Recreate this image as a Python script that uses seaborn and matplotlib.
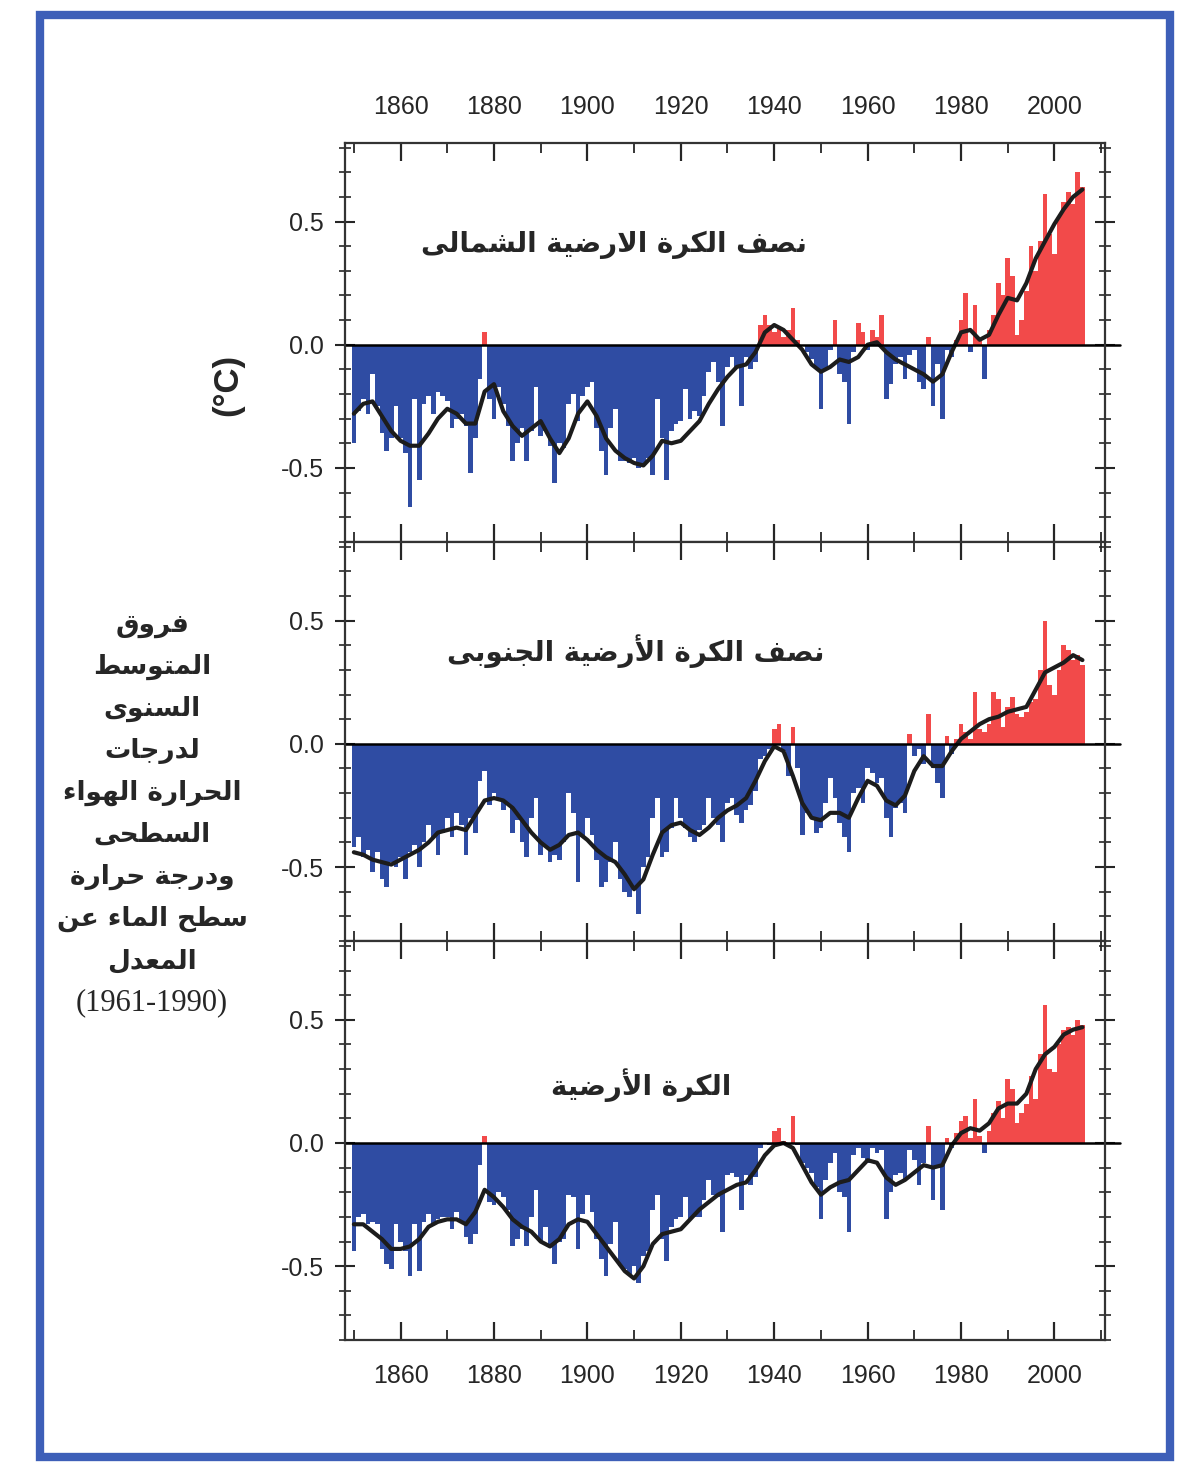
import matplotlib
matplotlib.use('Agg')
import matplotlib.pyplot as plt
import matplotlib.ticker as mticker
from matplotlib.patches import Rectangle
import numpy as np
import pandas as pd
import seaborn as sns

# annual anomalies (deg C, relative to 1961-1990), 1850-2006
YEARS = list(range(1850, 2007))

NH = [
    -0.40, -0.27, -0.22, -0.28, -0.12, -0.25, -0.36, -0.43, -0.38, -0.25,
    -0.38, -0.44, -0.66, -0.22, -0.55, -0.24, -0.21, -0.28, -0.19, -0.21,
    -0.23, -0.34, -0.30, -0.28, -0.33, -0.52, -0.38, -0.14, 0.05, -0.22,
    -0.30, -0.17, -0.24, -0.33, -0.47, -0.40, -0.34, -0.47, -0.35, -0.17,
    -0.37, -0.35, -0.41, -0.56, -0.40, -0.42, -0.24, -0.20, -0.31, -0.21,
    -0.17, -0.15, -0.34, -0.43, -0.53, -0.34, -0.26, -0.47, -0.47, -0.48,
    -0.46, -0.50, -0.49, -0.46, -0.53, -0.22, -0.38, -0.55, -0.35, -0.32,
    -0.31, -0.18, -0.30, -0.27, -0.29, -0.21, -0.11, -0.07, -0.15, -0.33,
    -0.09, -0.05, -0.09, -0.25, -0.05, -0.10, -0.07, 0.08, 0.12, 0.08,
    0.05, 0.07, 0.03, 0.06, 0.15, 0.02, 0.00, -0.03, -0.06, -0.10,
    -0.26, -0.10, -0.02, 0.10, -0.12, -0.15, -0.32, -0.03, 0.09, 0.05,
    -0.02, 0.06, 0.03, 0.12, -0.22, -0.16, -0.08, -0.05, -0.14, -0.04,
    -0.02, -0.15, -0.18, 0.03, -0.25, -0.08, -0.30, -0.02, -0.05, 0.02,
    0.10, 0.21, -0.03, 0.16, 0.02, -0.14, 0.06, 0.12, 0.25, 0.20,
    0.35, 0.28, 0.04, 0.10, 0.22, 0.40, 0.30, 0.42, 0.61, 0.45,
    0.37, 0.52, 0.58, 0.62, 0.57, 0.70, 0.64,
]

SH = [
    -0.42, -0.38, -0.46, -0.43, -0.52, -0.44, -0.55, -0.58, -0.48, -0.50,
    -0.46, -0.55, -0.44, -0.41, -0.50, -0.40, -0.33, -0.38, -0.45, -0.36,
    -0.30, -0.38, -0.28, -0.33, -0.45, -0.30, -0.36, -0.15, -0.11, -0.25,
    -0.20, -0.22, -0.27, -0.24, -0.36, -0.31, -0.40, -0.46, -0.30, -0.22,
    -0.45, -0.42, -0.48, -0.45, -0.47, -0.40, -0.20, -0.28, -0.56, -0.38,
    -0.30, -0.37, -0.47, -0.58, -0.56, -0.48, -0.40, -0.55, -0.60, -0.62,
    -0.58, -0.69, -0.50, -0.46, -0.30, -0.22, -0.46, -0.44, -0.34, -0.22,
    -0.30, -0.34, -0.38, -0.40, -0.35, -0.33, -0.22, -0.30, -0.33, -0.40,
    -0.24, -0.22, -0.29, -0.32, -0.27, -0.25, -0.19, -0.06, -0.05, -0.02,
    0.06, 0.08, -0.03, -0.13, 0.07, -0.10, -0.37, -0.28, -0.30, -0.36,
    -0.34, -0.24, -0.14, -0.22, -0.32, -0.38, -0.44, -0.20, -0.18, -0.24,
    -0.10, -0.12, -0.16, -0.14, -0.30, -0.38, -0.26, -0.24, -0.28, 0.04,
    -0.05, -0.02, -0.08, 0.12, -0.10, -0.16, -0.22, 0.03, -0.04, 0.02,
    0.08, 0.05, 0.02, 0.21, 0.06, 0.05, 0.08, 0.21, 0.18, 0.07,
    0.15, 0.19, 0.12, 0.11, 0.13, 0.17, 0.18, 0.30, 0.50, 0.24,
    0.20, 0.30, 0.40, 0.38, 0.34, 0.36, 0.32,
]

GL = [
    -0.44, -0.30, -0.29, -0.33, -0.32, -0.33, -0.43, -0.49, -0.51, -0.33,
    -0.40, -0.44, -0.54, -0.33, -0.52, -0.32, -0.29, -0.33, -0.31, -0.30,
    -0.30, -0.35, -0.28, -0.32, -0.38, -0.41, -0.37, -0.09, 0.03, -0.24,
    -0.25, -0.20, -0.22, -0.27, -0.42, -0.39, -0.35, -0.42, -0.30, -0.19,
    -0.40, -0.34, -0.42, -0.49, -0.40, -0.39, -0.21, -0.22, -0.43, -0.29,
    -0.21, -0.28, -0.39, -0.47, -0.54, -0.41, -0.32, -0.50, -0.51, -0.53,
    -0.50, -0.57, -0.46, -0.44, -0.27, -0.21, -0.39, -0.48, -0.34, -0.31,
    -0.30, -0.22, -0.31, -0.30, -0.30, -0.23, -0.15, -0.21, -0.22, -0.36,
    -0.13, -0.12, -0.14, -0.27, -0.13, -0.17, -0.14, -0.02, 0.00, -0.01,
    0.05, 0.06, 0.01, 0.00, 0.11, -0.01, -0.08, -0.10, -0.12, -0.18,
    -0.31, -0.15, -0.08, -0.04, -0.20, -0.22, -0.36, -0.05, -0.02, -0.06,
    -0.08, -0.02, -0.04, -0.03, -0.31, -0.20, -0.13, -0.12, -0.15, -0.03,
    -0.07, -0.17, -0.08, 0.07, -0.23, -0.09, -0.27, 0.02, -0.02, 0.04,
    0.09, 0.11, 0.02, 0.18, 0.03, -0.04, 0.05, 0.12, 0.17, 0.10,
    0.26, 0.22, 0.08, 0.12, 0.16, 0.27, 0.18, 0.36, 0.56, 0.30,
    0.29, 0.40, 0.46, 0.47, 0.44, 0.50, 0.48,
]

# decadal smoothed curves, read every second year
SMOOTH_YEARS = list(range(1850, 2007, 2))

NH_SMOOTH = [
    -0.28, -0.24, -0.23, -0.29, -0.35, -0.39, -0.41, -0.41, -0.36, -0.30,
    -0.26, -0.28, -0.32, -0.32, -0.19, -0.16, -0.27, -0.33, -0.37, -0.34,
    -0.31, -0.38, -0.44, -0.38, -0.28, -0.23, -0.29, -0.38, -0.43, -0.46,
    -0.48, -0.49, -0.45, -0.39, -0.40, -0.39, -0.35, -0.31, -0.24, -0.18,
    -0.13, -0.09, -0.08, -0.03, 0.05, 0.08, 0.06, 0.02, -0.02, -0.08,
    -0.11, -0.09, -0.06, -0.07, -0.05, 0.00, 0.01, -0.03, -0.06, -0.08,
    -0.10, -0.12, -0.15, -0.12, -0.03, 0.05, 0.06, 0.02, 0.04, 0.12,
    0.19, 0.18, 0.25, 0.35, 0.42, 0.49, 0.55, 0.60, 0.63,
]

SH_SMOOTH = [
    -0.44, -0.45, -0.47, -0.48, -0.49, -0.47, -0.45, -0.43, -0.40, -0.36,
    -0.35, -0.34, -0.35, -0.29, -0.23, -0.22, -0.23, -0.26, -0.31, -0.36,
    -0.40, -0.43, -0.41, -0.37, -0.36, -0.39, -0.43, -0.46, -0.48, -0.53,
    -0.59, -0.55, -0.45, -0.36, -0.33, -0.32, -0.35, -0.37, -0.34, -0.30,
    -0.27, -0.25, -0.22, -0.15, -0.07, -0.01, -0.03, -0.13, -0.24, -0.30,
    -0.31, -0.28, -0.28, -0.30, -0.22, -0.15, -0.17, -0.23, -0.25, -0.21,
    -0.11, -0.05, -0.09, -0.09, -0.03, 0.02, 0.05, 0.08, 0.10, 0.11,
    0.13, 0.14, 0.15, 0.22, 0.29, 0.31, 0.33, 0.36, 0.34,
]

GL_SMOOTH = [
    -0.33, -0.33, -0.36, -0.39, -0.43, -0.43, -0.42, -0.39, -0.34, -0.32,
    -0.31, -0.31, -0.33, -0.28, -0.19, -0.22, -0.26, -0.31, -0.34, -0.36,
    -0.40, -0.42, -0.39, -0.33, -0.31, -0.32, -0.37, -0.42, -0.47, -0.52,
    -0.55, -0.50, -0.41, -0.37, -0.36, -0.35, -0.31, -0.27, -0.24, -0.21,
    -0.19, -0.17, -0.16, -0.11, -0.05, -0.01, 0.00, -0.02, -0.09, -0.16,
    -0.21, -0.18, -0.16, -0.15, -0.11, -0.07, -0.08, -0.14, -0.17, -0.15,
    -0.12, -0.09, -0.10, -0.09, -0.01, 0.04, 0.06, 0.05, 0.08, 0.14,
    0.16, 0.16, 0.20, 0.30, 0.36, 0.39, 0.44, 0.46, 0.47,
]

TITLES = [
    'نصف الكرة الارضية الشمالى',
    'نصف الكرة الأرضية الجنوبى',
    'الكرة الأرضية',
]
LEFT_LINES = [
    'فروق', 'المتوسط', 'السنوى', 'لدرجات', 'الحرارة الهواء',
    'السطحى', 'ودرجة حرارة', 'سطح الماء عن', 'المعدل',
]
PERIOD = '(1961-1990)'

BLUE = '#2f4ca3'
RED = '#f24a4a'

# matplotlib has no Arabic shaping: pick contextual presentation forms by hand
AR_FORMS = {
    'ء': (0xFE80, 1), 'أ': (0xFE83, 2), 'ا': (0xFE8D, 2), 'ب': (0xFE8F, 4),
    'ة': (0xFE93, 2), 'ت': (0xFE95, 4), 'ج': (0xFE9D, 4), 'ح': (0xFEA1, 4),
    'د': (0xFEA9, 2), 'ر': (0xFEAD, 2), 'س': (0xFEB1, 4), 'ش': (0xFEB5, 4),
    'ص': (0xFEB9, 4), 'ض': (0xFEBD, 4), 'ط': (0xFEC1, 4), 'ع': (0xFEC9, 4),
    'ف': (0xFED1, 4), 'ق': (0xFED5, 4), 'ك': (0xFED9, 4), 'ل': (0xFEDD, 4),
    'م': (0xFEE1, 4), 'ن': (0xFEE5, 4), 'ه': (0xFEE9, 4), 'و': (0xFEED, 2),
    'ى': (0xFEEF, 2), 'ي': (0xFEF1, 4), 'لا': (0xFEFB, 2), 'لأ': (0xFEF7, 2),
}


def shape(text):
    words = []
    for word in text.split(' '):
        toks, i = [], 0
        while i < len(word):
            if word[i:i + 2] in AR_FORMS:
                toks.append(word[i:i + 2])
                i += 2
            else:
                toks.append(word[i])
                i += 1
        chars = []
        for j, t in enumerate(toks):
            start, n = AR_FORMS[t]
            prev = j > 0 and AR_FORMS[toks[j - 1]][1] == 4 and n > 1
            nxt = n == 4 and j + 1 < len(toks) and AR_FORMS[toks[j + 1]][1] > 1
            k = 3 if (prev and nxt) else 1 if prev else 2 if nxt else 0
            chars.append(chr(start + k))
        words.append(''.join(chars))
    return ' '.join(words)[::-1]


sns.set_style('ticks')
plt.rcParams['font.family'] = ['Liberation Sans Narrow', 'Liberation Sans', 'DejaVu Sans']
plt.rcParams['axes.unicode_minus'] = False

fig, axes = plt.subplots(3, 1, figsize=(11.88, 14.71), dpi=100)
fig.subplots_adjust(left=0.29, right=0.93, top=0.903, bottom=0.089, hspace=0)

panels = [(NH, NH_SMOOTH), (SH, SH_SMOOTH), (GL, GL_SMOOTH)]
title_pos = [(0.355, 0.745), (0.383, 0.725), (0.39, 0.64)]

for i, (ax, (vals, smooth)) in enumerate(zip(axes, panels)):
    df = pd.DataFrame({'year': YEARS, 'anom': vals})
    df['sign'] = np.where(df['anom'] >= 0, 'warm', 'cool')
    sns.barplot(data=df, x='year', y='anom', hue='sign',
                palette={'warm': RED, 'cool': BLUE}, native_scale=True,
                dodge=False, width=1.0, linewidth=0, saturation=1,
                errorbar=None, legend=False, ax=ax)
    sns.lineplot(x=SMOOTH_YEARS, y=smooth, color='#1c1c1c', linewidth=3, ax=ax)
    ax.axhline(0, color='black', lw=1.8, xmax=1.02, clip_on=False)

    ax.set_xlim(1848, 2010.8)
    ax.set_ylim(-0.8, 0.82)
    ax.set_xlabel('')
    ax.set_ylabel('')
    ax.xaxis.set_major_locator(mticker.MultipleLocator(20))
    ax.xaxis.set_minor_locator(mticker.MultipleLocator(10))
    ax.xaxis.set_major_formatter(mticker.FormatStrFormatter('%d'))
    ax.yaxis.set_major_locator(mticker.MultipleLocator(0.5))
    ax.yaxis.set_minor_locator(mticker.MultipleLocator(0.1))
    ax.yaxis.set_major_formatter(mticker.FormatStrFormatter('%.1f'))

    ax.tick_params(axis='x', which='both', direction='in', top=True, bottom=True,
                   labeltop=(i == 0), labelbottom=(i == 2), labelsize=18, pad=17)
    ax.tick_params(axis='x', which='major', length=13, width=1.6)
    ax.tick_params(axis='x', which='minor', length=7, width=1.3)
    ax.tick_params(axis='y', which='both', direction='inout', left=True, right=True,
                   labelsize=18, pad=8)
    ax.tick_params(axis='y', which='major', length=14, width=1.5)
    ax.tick_params(axis='y', which='minor', length=8, width=1.2)
    for s in ax.spines.values():
        s.set_linewidth(1.6)
        s.set_color('#333333')

    ax.text(title_pos[i][0], title_pos[i][1], shape(TITLES[i]), transform=ax.transAxes,
            ha='center', va='center', fontsize=20, fontweight='bold',
            family=['DejaVu Sans'])

fig.text(0.192, 0.738, '(°C)', rotation=90, ha='center', va='center',
         fontsize=25, fontweight='bold')

for k, line in enumerate(LEFT_LINES):
    fig.text(0.128, 1 - (625 + 42 * k) / 1471, shape(line), ha='center', va='center',
             fontsize=19, fontweight='bold', family=['DejaVu Sans'])
fig.text(0.128, 1 - (625 + 42 * len(LEFT_LINES)) / 1471, PERIOD, ha='center',
         va='center', fontsize=22, family=['Liberation Serif'])

fig.patches.append(Rectangle((0.034, 0.0095), 0.951, 0.980, transform=fig.transFigure,
                             fill=False, edgecolor='#3d5fb8', lw=6))

fig.savefig('out.png', dpi=100)
